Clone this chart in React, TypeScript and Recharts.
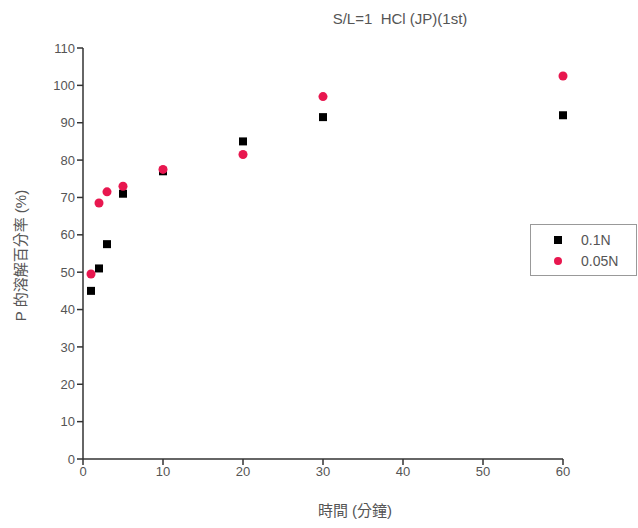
import { ScatterChart, Scatter, XAxis, YAxis, Label } from "recharts";

// time (min) and P dissolution (%)
const times = [1, 2, 3, 5, 10, 20, 30, 60];
const series01N = [45, 51, 57.5, 71, 77, 85, 91.5, 92];
const series005N = [49.5, 68.5, 71.5, 73, 77.5, 81.5, 97, 102.5];
const xTicks = [0, 10, 20, 30, 40, 50, 60];
const yTicks = [0, 10, 20, 30, 40, 50, 60, 70, 80, 90, 100, 110];

const data01N = times.map((t, i) => ({ t, p: series01N[i] }));
const data005N = times.map((t, i) => ({ t, p: series005N[i] }));

const RED = "#e8174f";
const AXIS = "#333";
const TEXT = "#555";
const FONT = "'Liberation Sans', Arial, sans-serif";
const CJK = "'Liberation Sans', 'Noto Sans CJK TC', sans-serif";

function LegendBox() {
    const rows = [
        { name: "0.1N", color: "#000", square: true },
        { name: "0.05N", color: RED, square: false },
    ];
    return (
        <div
            style={{
                position: "absolute",
                left: 530,
                top: 224,
                width: 107,
                border: "1px solid #999",
                background: "#fff",
                padding: "4px 0",
                fontFamily: FONT,
                fontSize: 14,
                color: TEXT,
                boxSizing: "border-box",
            }}
        >
            {rows.map((r) => (
                <div key={r.name} style={{ display: "flex", alignItems: "center", height: 21 }}>
                    <span
                        style={{
                            display: "inline-block",
                            width: 8,
                            height: 8,
                            marginLeft: 23,
                            marginRight: 19,
                            background: r.color,
                            borderRadius: r.square ? 0 : 4,
                        }}
                    />
                    <span>{r.name}</span>
                </div>
            ))}
        </div>
    );
}

export default function App() {
    return (
        <div style={{ position: "absolute", left: 0, top: 0, width: 638, height: 528, background: "#fff" }}>
            <div
                style={{
                    position: "absolute",
                    left: 0,
                    width: 800,
                    top: 10,
                    textAlign: "center",
                    fontFamily: FONT,
                    fontSize: 15,
                    color: TEXT,
                    whiteSpace: "pre",
                }}
            >
                {"S/L=1  HCl (JP)(1st)"}
            </div>
            <ScatterChart width={638} height={528} margin={{ top: 48, right: 75, bottom: 39, left: 33 }}>
                <XAxis
                    type="number"
                    dataKey="t"
                    domain={[0, 60]}
                    ticks={xTicks}
                    stroke={AXIS}
                    strokeWidth={1.5}
                    tickSize={6}
                    height={30}
                    tick={{ fill: TEXT, fontSize: 13, fontFamily: FONT }}
                >
                    <Label
                        content={({ viewBox }: any) => (
                            <text
                                x={viewBox.x + viewBox.width / 2 + 32}
                                y={viewBox.y + 57}
                                textAnchor="middle"
                                fill={TEXT}
                                fontSize={15}
                                fontFamily={CJK}
                            >
                                時間 (分鐘)
                            </text>
                        )}
                    />
                </XAxis>
                <YAxis
                    type="number"
                    dataKey="p"
                    domain={[0, 110]}
                    ticks={yTicks}
                    stroke={AXIS}
                    strokeWidth={1.5}
                    tickSize={6}
                    width={50}
                    tick={{ fill: TEXT, fontSize: 13, fontFamily: FONT }}
                >
                    <Label
                        content={({ viewBox }: any) => {
                            const cx = 20;
                            const cy = viewBox.y + viewBox.height / 2 + 2;
                            return (
                                <text
                                    x={cx}
                                    y={cy}
                                    transform={`rotate(-90 ${cx} ${cy})`}
                                    textAnchor="middle"
                                    dominantBaseline="central"
                                    fill={TEXT}
                                    fontSize={15}
                                    fontFamily={CJK}
                                >
                                    P 的溶解百分率 (%)
                                </text>
                            );
                        }}
                    />
                </YAxis>
                <Scatter name="0.1N" data={data01N} fill="#000" shape="square" isAnimationActive={false} />
                <Scatter name="0.05N" data={data005N} fill={RED} shape="circle" isAnimationActive={false} />
            </ScatterChart>
            <LegendBox />
        </div>
    );
}
